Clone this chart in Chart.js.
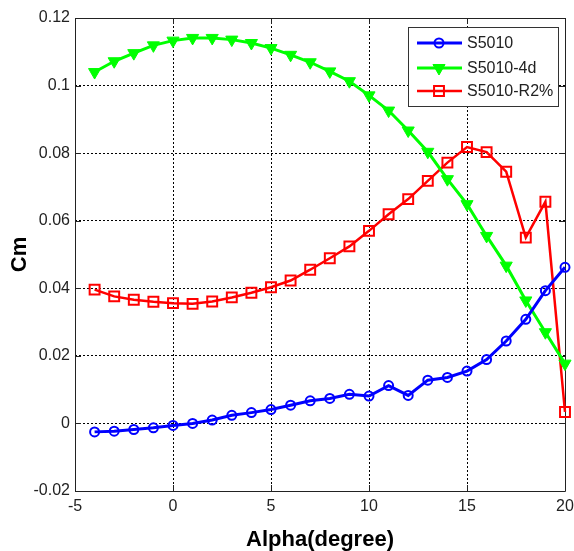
<!DOCTYPE html>
<html>
<head>
<meta charset="utf-8">
<script src="https://cdn.jsdelivr.net/npm/chart.js@4.4.1/dist/chart.umd.min.js"></script>
<style>
  html, body { margin: 0; padding: 0; background: #fff; }
  #wrap { width: 574px; height: 551px; position: relative; }
</style>
</head>
<body>
<div id="wrap"><canvas id="cmChart" width="574" height="551"></canvas></div>
<script>
// 迎角 (deg)
var alphas = [-4, -3, -2, -1, 0, 1, 2, 3, 4, 5, 6, 7, 8, 9, 10, 11, 12, 13, 14, 15, 16, 17, 18, 19, 20];

// 各翼型的 Cm
var cmS5010 = [-0.0025, -0.0023, -0.0018, -0.0013, -0.0006, 0.0000, 0.0010, 0.0024, 0.0032, 0.0041,
               0.0054, 0.0067, 0.0074, 0.0086, 0.0081, 0.0112, 0.0083, 0.0128, 0.0136, 0.0155,
               0.0189, 0.0244, 0.0308, 0.0393, 0.0462];
var cmS5010_4d = [0.1040, 0.1072, 0.1096, 0.1119, 0.1133, 0.1141, 0.1141, 0.1136, 0.1126, 0.1111,
                  0.1091, 0.1069, 0.1042, 0.1013, 0.0971, 0.0926, 0.0867, 0.0804, 0.0723, 0.0649,
                  0.0555, 0.0467, 0.0364, 0.0270, 0.0177];
var cmS5010_R2 = [0.0396, 0.0376, 0.0366, 0.0360, 0.0356, 0.0354, 0.0361, 0.0373, 0.0387, 0.0403,
                  0.0423, 0.0455, 0.0489, 0.0524, 0.0570, 0.0619, 0.0664, 0.0718, 0.0772, 0.0818,
                  0.0803, 0.0745, 0.0550, 0.0656, 0.0034];

var seriesNames = ['S5010', 'S5010-4d', 'S5010-R2%'];
var xTickLabels = ['-5', '0', '5', '10', '15', '20'];
var yTickLabels = ['-0.02', '0', '0.02', '0.04', '0.06', '0.08', '0.1', '0.12'];

var tickFont = "'Liberation Sans', Arial, sans-serif";

function toPoints(ys) {
    return alphas.map(function(a, i) { return { x: a, y: ys[i] }; });
}

// 边框 + 内刻度 (MATLAB 风格)
var framePlugin = {
    id: 'frame',
    beforeDatasetsDraw: function(chart) {
        var ctx = chart.ctx, a = chart.chartArea;
        var xs = chart.scales.x, ys = chart.scales.y;
        ctx.save();
        ctx.strokeStyle = '#222';
        ctx.lineWidth = 1;
        ctx.beginPath();
        ctx.rect(Math.round(a.left) + 0.5, Math.round(a.top) + 0.5,
                 Math.round(a.right - a.left), Math.round(a.bottom - a.top));
        ctx.stroke();
        ctx.beginPath();
        xs.ticks.forEach(function(t) {
            var px = Math.round(xs.getPixelForValue(t.value)) + 0.5;
            ctx.moveTo(px, a.bottom); ctx.lineTo(px, a.bottom - 6);
            ctx.moveTo(px, a.top); ctx.lineTo(px, a.top + 6);
        });
        ys.ticks.forEach(function(t) {
            var py = Math.round(ys.getPixelForValue(t.value)) + 0.5;
            ctx.moveTo(a.left, py); ctx.lineTo(a.left + 6, py);
            ctx.moveTo(a.right, py); ctx.lineTo(a.right - 6, py);
        });
        ctx.stroke();
        ctx.restore();
    }
};

// 图例画在绘图区内右上角
var legendPlugin = {
    id: 'innerLegend',
    afterDraw: function(chart) {
        var ctx = chart.ctx;
        var bx = 408, by = 27, bw = 150, bh = 79;
        var rows = [43, 68, 91];
        ctx.save();
        ctx.fillStyle = '#fff';
        ctx.fillRect(bx, by, bw, bh);
        ctx.strokeStyle = '#333';
        ctx.lineWidth = 1;
        ctx.strokeRect(bx + 0.5, by + 0.5, bw, bh);
        chart.data.datasets.forEach(function(ds, i) {
            var y = rows[i];
            ctx.strokeStyle = ds.borderColor;
            ctx.lineWidth = ds.borderWidth;
            ctx.beginPath();
            ctx.moveTo(417, y); ctx.lineTo(462, y);
            ctx.stroke();
            ctx.fillStyle = ds.pointBackgroundColor;
            ctx.strokeStyle = ds.borderColor;
            ctx.lineWidth = ds.pointBorderWidth;
            Chart.helpers.drawPoint(ctx, {
                pointStyle: ds.pointStyle,
                rotation: ds.pointRotation || 0,
                radius: ds.pointRadius,
                borderWidth: ds.pointBorderWidth
            }, 439, y);
            ctx.fillStyle = '#222';
            ctx.font = '16px ' + tickFont;
            ctx.textBaseline = 'middle';
            ctx.textAlign = 'left';
            ctx.fillText(seriesNames[i], 467, y + 1);
        });
        ctx.restore();
    }
};

var ctx = document.getElementById('cmChart').getContext('2d');
var cmChart = new Chart(ctx, {
    type: 'line',
    data: {
        datasets: [{
            label: seriesNames[0],
            data: toPoints(cmS5010),
            borderColor: '#0000ff',
            borderWidth: 3,
            pointStyle: 'circle',
            pointRadius: 4.5,
            pointBorderWidth: 2,
            pointBackgroundColor: 'rgba(0,0,255,0)',
            pointBorderColor: '#0000ff',
            clip: false
        }, {
            label: seriesNames[1],
            data: toPoints(cmS5010_4d),
            borderColor: '#00ff00',
            borderWidth: 3,
            pointStyle: 'triangle',
            pointRotation: 180,
            pointRadius: 7,
            pointBorderWidth: 1,
            pointBackgroundColor: '#00ff00',
            pointBorderColor: '#00ff00',
            clip: false
        }, {
            label: seriesNames[2],
            data: toPoints(cmS5010_R2),
            borderColor: '#ff0000',
            borderWidth: 2.5,
            pointStyle: 'rect',
            pointRadius: 7,
            pointBorderWidth: 2,
            pointBackgroundColor: 'rgba(255,0,0,0)',
            pointBorderColor: '#ff0000',
            clip: false
        }]
    },
    options: {
        responsive: false,
        animation: false,
        layout: { padding: { left: 0, top: 18, right: 9, bottom: 0 } },
        plugins: {
            legend: { display: false },
            tooltip: { enabled: false }
        },
        scales: {
            x: {
                type: 'linear',
                min: -5,
                max: 20,
                afterFit: function(s) {
                    s.height = 60;
                    s.paddingLeft = 0;
                    s.paddingRight = 0;
                },
                border: { display: false, dash: [2, 2] },
                grid: {
                    color: '#000',
                    lineWidth: function(c) { return (c.tick && (c.tick.value === -5 || c.tick.value === 20)) ? 0 : 1; },
                    drawTicks: false
                },
                ticks: {
                    stepSize: 5,
                    padding: 6,
                    color: '#222',
                    font: { family: tickFont, size: 16 },
                    maxRotation: 0,
                    callback: function(v) {
                        var idx = Math.round((v + 5) / 5);
                        return xTickLabels[idx];
                    }
                },
                title: {
                    display: true,
                    text: 'Alpha(degree)',
                    color: '#000',
                    font: { family: "'Liberation Sans', Arial, sans-serif", size: 22, weight: 'bold', lineHeight: 1 },
                    padding: { top: 0, bottom: 0 }
                }
            },
            y: {
                type: 'linear',
                min: -0.02,
                max: 0.12,
                afterFit: function(s) { s.width = 75; },
                border: { display: false, dash: [2, 2] },
                grid: {
                    color: '#000',
                    lineWidth: function(c) {
                        if (!c.tick) return 1;
                        var v = c.tick.value;
                        return (Math.abs(v + 0.02) < 1e-6 || Math.abs(v - 0.12) < 1e-6) ? 0 : 1;
                    },
                    drawTicks: false
                },
                ticks: {
                    stepSize: 0.02,
                    padding: 5,
                    color: '#222',
                    font: { family: tickFont, size: 16 },
                    callback: function(v) {
                        var idx = Math.round((v + 0.02) / 0.02);
                        return yTickLabels[idx];
                    }
                },
                title: {
                    display: true,
                    text: 'Cm',
                    color: '#000',
                    font: { family: "'Liberation Sans', Arial, sans-serif", size: 22, weight: 'bold', lineHeight: 1 },
                    padding: { top: 9, bottom: 0 }
                }
            }
        }
    },
    plugins: [framePlugin, legendPlugin]
});
</script>
</body>
</html>
